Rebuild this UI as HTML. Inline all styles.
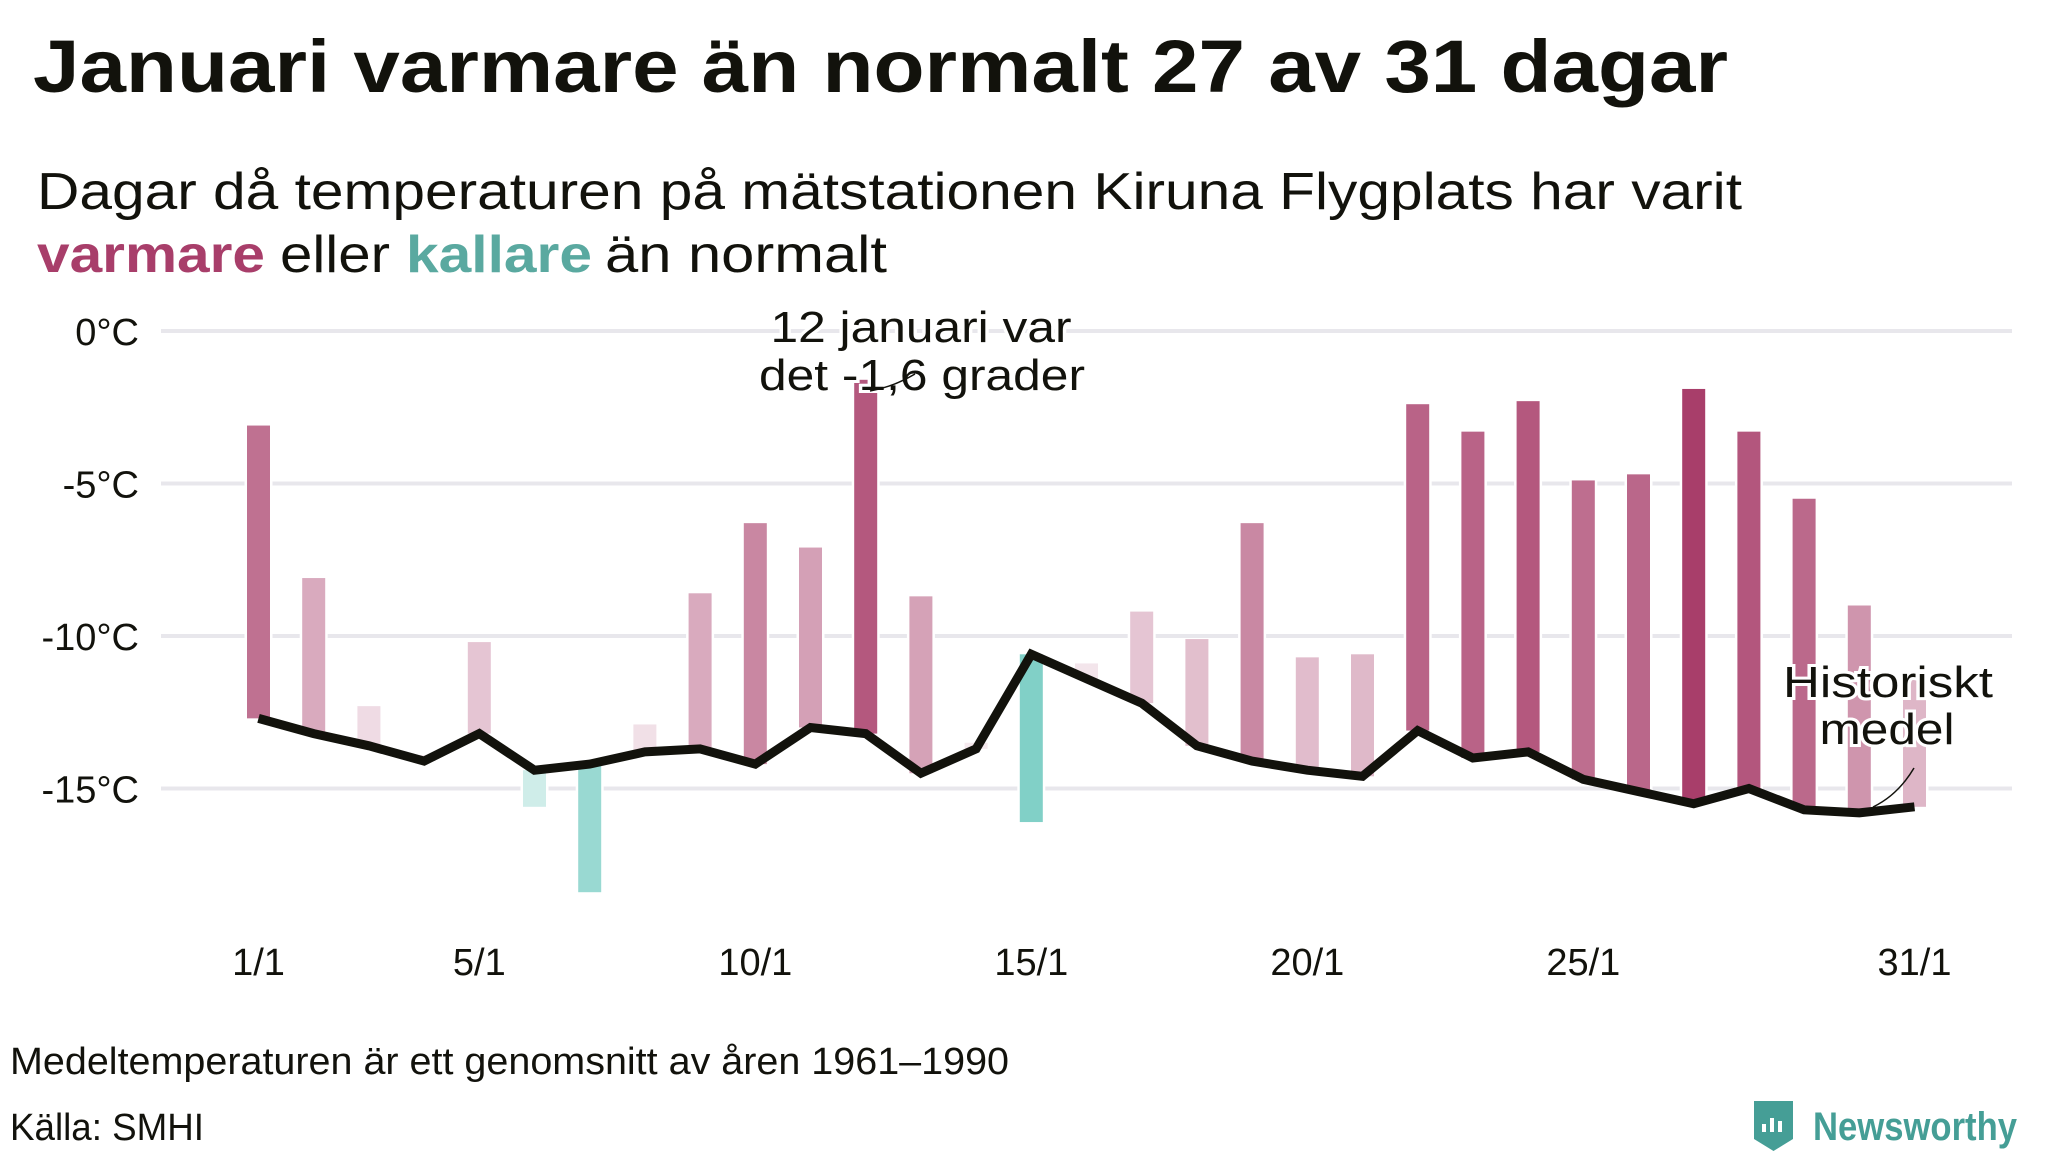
<!DOCTYPE html>
<html><head><meta charset="utf-8"><style>
html,body{margin:0;padding:0;background:#fff;}
svg{display:block;font-family:"Liberation Sans",sans-serif;}
</style></head><body>
<svg id="chart" width="2048" height="1152" viewBox="0 0 2048 1152" xmlns="http://www.w3.org/2000/svg">
<text x="33" y="92" font-size="74" font-weight="bold" fill="#12120c" textLength="1695" lengthAdjust="spacingAndGlyphs">Januari varmare än normalt 27 av 31 dagar</text>
<text x="37" y="209" font-size="52" fill="#12120c" textLength="1705" lengthAdjust="spacingAndGlyphs">Dagar då temperaturen på mätstationen Kiruna Flygplats har varit</text>
<text x="37" y="272" font-size="52" font-weight="bold" fill="#a83e6a" textLength="228" lengthAdjust="spacingAndGlyphs">varmare</text>
<text x="280" y="272" font-size="52" fill="#12120c" textLength="110" lengthAdjust="spacingAndGlyphs">eller</text>
<text x="406" y="272" font-size="52" font-weight="bold" fill="#5aa9a0" textLength="186" lengthAdjust="spacingAndGlyphs">kallare</text>
<text x="605" y="272" font-size="52" fill="#12120c" textLength="282" lengthAdjust="spacingAndGlyphs">än normalt</text>
<g id="grid"></g><g id="bars"></g><g id="line"></g><g id="labels"></g>
<g font-size="44" fill="#12120c" text-anchor="middle" stroke="#fff" stroke-width="6" paint-order="stroke">
<text x="921" y="342" textLength="301" lengthAdjust="spacingAndGlyphs">12 januari var</text>
<text x="922" y="390" textLength="326" lengthAdjust="spacingAndGlyphs">det -1,6 grader</text>
</g>
<path d="M915 374 Q893 387 870 391" stroke="#12120c" stroke-width="1.5" fill="none"/>
<g font-size="44" fill="#12120c" text-anchor="middle" stroke="#fff" stroke-width="6" paint-order="stroke">
<text x="1888" y="697" textLength="210" lengthAdjust="spacingAndGlyphs">Historiskt</text>
<text x="1887" y="744" textLength="135" lengthAdjust="spacingAndGlyphs">medel</text>
</g>
<path d="M1914 768 Q1898 795 1873 807" stroke="#12120c" stroke-width="1.5" fill="none"/>
<text x="10" y="1074" font-size="38" fill="#12120c" textLength="999" lengthAdjust="spacingAndGlyphs">Medeltemperaturen är ett genomsnitt av åren 1961–1990</text>
<text x="10" y="1140" font-size="38" fill="#12120c" textLength="194" lengthAdjust="spacingAndGlyphs">Källa: SMHI</text>
<g>
<path d="M1754 1101 h39 v38 l-19.5 12 l-19.5 -12 z" fill="#459e96"/>
<rect x="1762" y="1124" width="4" height="8" fill="#fff"/><rect x="1770" y="1118" width="4" height="14" fill="#fff"/><rect x="1778" y="1121" width="4" height="11" fill="#fff"/>
<text x="1813" y="1140" font-size="40" font-weight="bold" fill="#459e96" textLength="204" lengthAdjust="spacingAndGlyphs">Newsworthy</text>
</g>
</svg>
<script>
const days = [1,2,3,4,5,6,7,8,9,10,11,12,13,14,15,16,17,18,19,20,21,22,23,24,25,26,27,28,29,30,31];
const actual = [-3.1,-8.1,-12.3,-13.9,-10.2,-15.6,-18.4,-12.9,-8.6,-6.3,-7.1,-1.6,-8.7,-13.5,-16.1,-10.9,-9.2,-10.1,-6.3,-10.7,-10.6,-2.4,-3.3,-2.3,-4.9,-4.7,-1.9,-3.3,-5.5,-9.0,-11.4];
const normal = [-12.7,-13.2,-13.6,-14.1,-13.2,-14.4,-14.2,-13.8,-13.7,-14.2,-13.0,-13.2,-14.5,-13.7,-10.6,-11.4,-12.2,-13.6,-14.1,-14.4,-14.6,-13.1,-14.0,-13.8,-14.7,-15.1,-15.5,-15.0,-15.7,-15.8,-15.6];
const yTicks = [0,-5,-10,-15];
const yTickLabels = ["0°C","-5°C","-10°C","-15°C"];
const xTicks = [1,5,10,15,20,25,31];
const xTickLabels = ["1/1","5/1","10/1","15/1","20/1","25/1","31/1"];

const NS="http://www.w3.org/2000/svg";
const xs = d => 258.5 + (d-1)*55.2;
const ys = t => 331 - t*30.5;
function mk(tag, attrs, parent){const e=document.createElementNS(NS,tag);for(const k in attrs)e.setAttribute(k,attrs[k]);parent.appendChild(e);return e;}
const grid=document.getElementById('grid'), bars=document.getElementById('bars'), line=document.getElementById('line'), labels=document.getElementById('labels');
yTicks.forEach((t,i)=>{
  const g=mk('line',{x1:161,x2:2012,y1:ys(t),y2:ys(t),stroke:'#e8e7ec','stroke-width':4},grid);
  
  
  const tx=mk('text',{x:139,y:ys(t)+14,'font-size':38,'text-anchor':'end',fill:'#12120c'},labels);
  tx.textContent=yTickLabels[i];
  
  
});
xTicks.forEach((d,i)=>{
  const tx=mk('text',{x:xs(d),y:975,'font-size':38,'text-anchor':'middle',fill:'#12120c'},labels);
  tx.textContent=xTickLabels[i];
  
  
});
days.forEach((d,i)=>{
  const a=actual[i], n=normal[i], diff=a-n;
  let fill, op;
  if(diff>=0){fill='rgb(168,62,106)';op=Math.min(1,0.1+diff/13.6*0.9);}
  else{fill='rgb(76,188,175)';op=Math.min(1,0.15+(-diff)/5.5*0.55);}
  const top=ys(Math.max(a,n)), bot=ys(Math.min(a,n));
  mk('rect',{x:xs(d)-14,y:top-1,width:28,height:Math.max(1,bot-top)+2,fill:'#fff'},bars);
  const r=mk('rect',{x:xs(d)-11.5,y:top,width:23,height:Math.max(1,bot-top),fill:fill,'fill-opacity':op},bars);
  
  
});
const pts=days.map((d,i)=>xs(d)+','+ys(normal[i])).join(' ');
const pl=mk('polyline',{points:pts,fill:'none',stroke:'#12120c','stroke-width':9,'stroke-linejoin':'miter'},line);


</script>
</body></html>
